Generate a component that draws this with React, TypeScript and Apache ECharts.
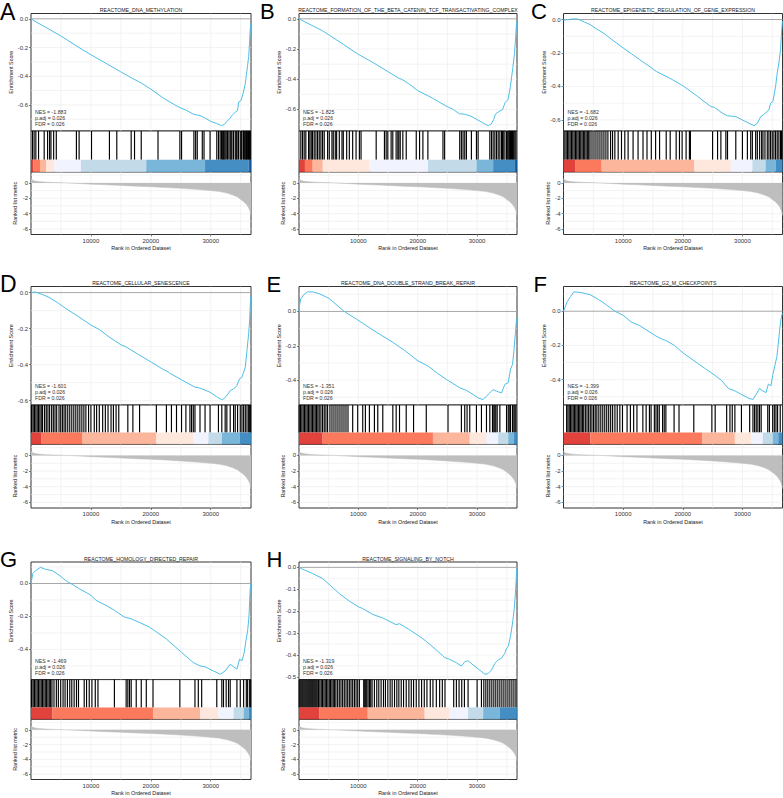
import React, { useEffect, useRef } from "react";
import * as echarts from "echarts";

// ---------------- data ----------------
const panelLetters = ["A", "B", "C", "D", "E", "F", "G", "H"];
const panelTitles = [
  "REACTOME_DNA_METHYLATION",
  "REACTOME_FORMATION_OF_THE_BETA_CATENIN_TCF_TRANSACTIVATING_COMPLEX",
  "REACTOME_EPIGENETIC_REGULATION_OF_GENE_EXPRESSION",
  "REACTOME_CELLULAR_SENESCENCE",
  "REACTOME_DNA_DOUBLE_STRAND_BREAK_REPAIR",
  "REACTOME_G2_M_CHECKPOINTS",
  "REACTOME_HOMOLOGY_DIRECTED_REPAIR",
  "REACTOME_SIGNALING_BY_NOTCH",
];
const nesValues = ["-1.883", "-1.825", "-1.682", "-1.601", "-1.351", "-1.399", "-1.469", "-1.319"];
const padjValues = ["0.026", "0.026", "0.026", "0.026", "0.026", "0.026", "0.026", "0.026"];
const fdrValues = ["0.026", "0.026", "0.026", "0.026", "0.026", "0.026", "0.026", "0.026"];

// running enrichment score curves [rank, ES]
const esA = [[0,0],[1000,-0.025],[2500,-0.06],[5000,-0.12],[8000,-0.2],[10000,-0.25],[12500,-0.31],[15000,-0.37],[16700,-0.41],[18500,-0.45],[20000,-0.49],[22000,-0.55],[24000,-0.6],[24900,-0.62],[25800,-0.635],[27100,-0.665],[28200,-0.675],[29000,-0.69],[30000,-0.715],[31000,-0.73],[31800,-0.745],[32300,-0.735],[32800,-0.71],[33140,-0.698],[33530,-0.675],[33810,-0.663],[34090,-0.652],[34480,-0.64],[34650,-0.581],[35040,-0.57],[35380,-0.523],[35770,-0.452],[35940,-0.394],[36160,-0.323],[36330,-0.265],[36500,-0.148],[36610,-0.066],[36700,-0.03]];
const esB = [[0,0],[1000,-0.02],[2500,-0.05],[4000,-0.08],[5000,-0.105],[7500,-0.17],[10000,-0.235],[12500,-0.29],[15000,-0.35],[16900,-0.395],[17300,-0.4],[18500,-0.43],[20000,-0.475],[22500,-0.525],[24800,-0.578],[26000,-0.6],[27000,-0.628],[28000,-0.632],[29000,-0.645],[30500,-0.678],[31500,-0.7],[31900,-0.707],[32400,-0.695],[32800,-0.665],[33100,-0.63],[33600,-0.615],[34300,-0.6],[34700,-0.555],[35200,-0.535],[35600,-0.45],[36000,-0.33],[36300,-0.23],[36500,-0.12],[36650,-0.02]];
const esC = [[0,-0.004],[800,0.0],[1700,0.004],[2500,0.002],[3500,-0.015],[4440,-0.03],[5500,-0.055],[6670,-0.08],[8300,-0.125],[10000,-0.17],[11400,-0.205],[12780,-0.24],[14200,-0.275],[15560,-0.31],[17800,-0.35],[20000,-0.395],[22500,-0.46],[24720,-0.52],[25300,-0.525],[26670,-0.56],[27500,-0.575],[28890,-0.58],[30000,-0.6],[31110,-0.62],[31940,-0.634],[32500,-0.62],[33060,-0.58],[33500,-0.57],[34440,-0.54],[34720,-0.5],[35110,-0.49],[35560,-0.4],[35830,-0.32],[36110,-0.26],[36390,-0.18],[36560,-0.08],[36700,-0.01]];
const esD = [[0,-0.004],[250,0.0],[480,0.004],[1040,0.0],[2000,-0.012],[3000,-0.026],[4400,-0.055],[5800,-0.088],[8000,-0.135],[10000,-0.18],[11400,-0.205],[13200,-0.25],[15040,-0.29],[15880,-0.302],[18000,-0.345],[20080,-0.386],[22000,-0.425],[22890,-0.44],[23300,-0.45],[25130,-0.484],[27370,-0.525],[28210,-0.53],[29890,-0.553],[31000,-0.578],[31570,-0.59],[32000,-0.594],[32690,-0.572],[33250,-0.544],[33810,-0.535],[34370,-0.516],[34820,-0.479],[35210,-0.47],[35770,-0.414],[36050,-0.32],[36330,-0.227],[36500,-0.153],[36610,-0.06],[36700,-0.02]];
const esE = [[0,0],[30,0.025],[310,0.075],[870,0.1],[1440,0.114],[2280,0.114],[3410,0.104],[5100,0.075],[7070,0.016],[7630,0.0],[9600,-0.043],[11300,-0.082],[12990,-0.12],[15800,-0.18],[17900,-0.23],[20030,-0.288],[21720,-0.318],[23300,-0.36],[24820,-0.396],[27070,-0.445],[28200,-0.46],[29320,-0.484],[30170,-0.504],[31010,-0.514],[31580,-0.494],[32140,-0.475],[32700,-0.455],[33270,-0.465],[34110,-0.475],[34680,-0.425],[35240,-0.416],[35630,-0.337],[35970,-0.308],[36200,-0.23],[36480,-0.112],[36650,-0.04]];
const esF = [[0,0],[630,0.056],[1180,0.086],[1740,0.113],[2840,0.11],[4490,0.096],[5900,0.068],[7240,0.036],[8620,0.0],[10000,-0.024],[11380,-0.064],[12750,-0.084],[15500,-0.145],[16600,-0.165],[17150,-0.171],[18600,-0.2],[20080,-0.245],[23770,-0.336],[25430,-0.376],[26530,-0.406],[27630,-0.452],[28730,-0.466],[29830,-0.486],[30930,-0.507],[31760,-0.517],[32310,-0.486],[32860,-0.452],[33410,-0.466],[33960,-0.476],[34350,-0.426],[34790,-0.436],[35070,-0.376],[35450,-0.316],[35780,-0.265],[36000,-0.195],[36220,-0.115],[36450,-0.05],[36700,-0.01]];
const esG = [[0,0],[100,0.02],[310,0.061],[760,0.078],[1600,0.098],[2440,0.086],[3560,0.078],[4680,0.051],[6080,0.01],[6640,0.0],[8040,-0.031],[10000,-0.071],[10840,-0.102],[12520,-0.133],[13920,-0.163],[15600,-0.204],[16720,-0.214],[19800,-0.265],[22600,-0.337],[25130,-0.418],[27090,-0.48],[28210,-0.5],[29050,-0.506],[30450,-0.531],[31570,-0.551],[32410,-0.531],[33250,-0.49],[33810,-0.506],[34370,-0.52],[34820,-0.459],[35210,-0.469],[35600,-0.418],[35880,-0.347],[36160,-0.286],[36380,-0.204],[36550,-0.061],[36660,0.0]];
const esH = [[0,0],[590,-0.008],[2280,-0.028],[3970,-0.051],[5380,-0.085],[6790,-0.12],[8480,-0.154],[10000,-0.18],[10730,-0.188],[12420,-0.215],[14110,-0.231],[15800,-0.254],[16360,-0.262],[16930,-0.257],[18620,-0.285],[20310,-0.315],[21440,-0.338],[23130,-0.377],[24540,-0.412],[25380,-0.42],[26510,-0.435],[27350,-0.451],[27920,-0.431],[28480,-0.426],[29330,-0.446],[30450,-0.469],[31300,-0.488],[31860,-0.485],[32420,-0.469],[32990,-0.438],[33550,-0.423],[34110,-0.415],[34680,-0.392],[34960,-0.369],[35240,-0.362],[35630,-0.315],[35970,-0.254],[36250,-0.192],[36420,-0.131],[36590,-0.054],[36650,-0.008]];

// gene-set hit positions (rank)
const hitsA = [250,520,810,1260,2200,2770,3110,3330,3780,4220,7580,8030,10100,13090,14320,16720,17280,18400,21200,24850,25130,27190,27480,27750,28590,28880,29890,31010,31300,31570,31800,32000,32100,32240,32400,32580,32800,33030,33250,33400,33540,33800,34090,34260,34400,34640,34930,35100,35220,35480,35600,35770,35940,36000,36160,36300,36400,36500,36610];
const hitsB = [310,590,870,1150,1610,1830,2060,2280,2560,2850,3130,3410,3690,3970,4250,4820,5100,5550,5770,6110,6340,6790,7240,7460,8030,8480,9040,9610,10170,10450,13000,14390,14680,14960,15520,15800,16360,16650,16820,17050,17490,18060,19750,20310,20870,21710,24250,24530,27070,27350,27630,27920,28200,29040,29890,30170,32140,32420,32700,32990,33270,33550,33830,34110,34280,34400,34680,34960,35070,35240,35410,35520,35630,35800,35970,36080,36200,36370,36540];
const hitsC = [222,444,667,889,1111,1333,1556,1778,2000,2222,2444,2667,2889,3111,3333,3556,3778,4000,4222,4444,4778,5111,5444,5778,6111,6444,6778,7111,7444,7889,8222,8611,9167,9722,10278,10833,11667,12500,13333,14000,14722,15444,16111,17222,17889,18889,19444,19889,20556,21111,21278,25000,25833,26389,27222,27500,28889,30000,30833,31389,31667,32222,32500,32889,33222,33444,33778,34167,34444,34722,35000,35278,35556,35833,36111,36389,36556];
const hitsD = [80,140,364,588,812,1036,1260,1485,1709,1933,2269,2549,2829,3109,3445,3725,4006,4286,4678,4958,5238,5518,5798,6134,6470,6807,7143,7479,7815,8151,8487,8823,9159,9607,9999,10560,10952,11400,11960,12408,12857,13361,13753,14201,14649,16162,17003,18123,20924,22600,23440,24285,25126,25854,26526,26800,27086,27366,28207,29050,29888,31288,31848,32408,32688,33249,33809,34089,34481,34929,35209,35489,35769,36049,36329,36497,36665];
const hitsE = [28,254,479,704,930,1155,1380,1606,1831,2056,2282,2507,2732,2958,3183,3408,3690,3972,4254,4535,4817,5211,5550,5888,6226,6564,6902,7240,7578,7916,8254,9043,9888,10733,11183,11859,12704,13268,14113,15803,16366,16930,18057,19296,21437,25099,27352,27916,28310,28761,29888,30733,31578,32141,32592,32817,32986,33155,33381,33832,34958,35240,35409,35634,35972,36197,36366,36535];
const hitsF = [523,744,964,1185,1405,1625,1846,2066,2287,2507,2728,2948,3168,3389,3664,3940,4215,4491,4766,5042,5317,5593,5923,6254,6584,6915,7246,7576,7907,8237,8623,9009,9449,9890,10662,11213,11764,12315,13306,13857,14408,14684,15235,15510,15786,16061,16612,16888,17164,18541,19368,21847,24878,25429,27358,27909,28294,28735,29837,31215,31766,32042,32317,32593,32868,33144,34246,34522,35073,35348,35624,35899,36340];
const hitsG = [80,140,364,588,812,1036,1260,1485,1709,1933,2157,2381,2605,2829,3053,3277,3501,3837,4230,4566,4958,5350,5686,6078,6470,6807,7199,7591,7927,8879,9271,9719,10167,10728,11176,13921,15882,16162,16442,16722,17563,18403,19243,20364,24845,27366,27926,28487,31008,31848,32128,32576,32968,33249,34369,34929,35489,35937,36161,36497,36665];
const hitsH = [30,200,370,540,700,870,1040,1210,1380,1550,1720,1890,2060,2230,2390,2560,2730,2900,3070,3300,3520,3750,3970,4200,4420,4650,4870,5100,5320,5550,5770,6000,6220,6510,6790,7070,7350,7630,7920,8200,8480,8760,9040,9330,9610,9890,10170,10900,11070,11240,11410,11630,11860,12080,12310,12700,13100,13440,13830,14230,14560,14960,15350,15690,16090,16480,16820,17220,17610,18060,18510,18910,19300,19750,20200,20650,21100,21550,22110,22560,23130,23690,24140,24590,26060,26510,26960,27410,27860,28480,30000,30730,31130,31470,31800,32140,32480,32820,33150,33490,33830,34170,34510,34850,35190,35520,35860,36200,36540];

// colour-bar segments [start rank, end rank, brewer key]
const barA = [[0,400,"R4"],[400,1500,"R3"],[1500,2500,"R2"],[2500,3900,"R1"],[3900,8330,"B1"],[8330,19240,"B2"],[19240,29050,"B3"],[29050,36330,"B4"],[36330,36720,"B5"]];
const barB = [[0,1000,"R4"],[1000,2300,"R3"],[2300,4000,"R2"],[4000,11860,"R1"],[11860,21720,"B1"],[21720,29890,"B2"],[29890,32700,"B3"],[32700,36370,"B4"],[36370,36720,"B5"]];
const barC = [[0,1940,"R4"],[1940,6390,"R3"],[6390,21940,"R2"],[21940,28060,"R1"],[28060,31670,"B1"],[31670,33890,"B2"],[33890,35560,"B3"],[35560,36720,"B4"]];
const barD = [[0,1765,"R4"],[1765,8600,"R3"],[8600,20920,"R2"],[20920,27090,"R1"],[27090,29610,"B1"],[29610,31850,"B2"],[31850,34820,"B3"],[34820,36720,"B4"]];
const barE = [[0,3970,"R4"],[3970,22560,"R3"],[22560,28760,"R2"],[28760,31580,"R1"],[31580,33550,"B1"],[33550,35240,"B2"],[35240,36200,"B3"],[36200,36720,"B4"]];
const barF = [[0,4490,"R4"],[4490,23220,"R3"],[23220,28730,"R2"],[28730,31490,"R1"],[31490,33420,"B1"],[33420,35070,"B2"],[35070,36010,"B3"],[36010,36720,"B4"]];
const barG = [[0,3560,"R4"],[3560,20360,"R3"],[20360,28210,"R2"],[28210,31290,"R1"],[31290,33810,"B1"],[33810,35490,"B2"],[35490,36330,"B3"],[36330,36720,"B4"]];
const barH = [[0,3410,"R4"],[3410,11580,"R3"],[11580,21160,"R2"],[21160,25380,"R1"],[25380,28480,"B1"],[28480,31020,"B2"],[31020,33830,"B3"],[33830,36720,"B4"]];

// ranked list metric [rank, metric]
const rankedMetric = [[0,0.6],[150,0.4],[500,0.28],[1200,0.18],[2500,0.1],[4000,0.05],[6000,0.0],[8000,-0.08],[10000,-0.16],[12500,-0.25],[15000,-0.33],[17500,-0.42],[20000,-0.5],[22500,-0.6],[25000,-0.71],[27500,-0.84],[30000,-1.0],[31500,-1.13],[32700,-1.33],[33700,-1.58],[34500,-1.85],[35000,-2.15],[35500,-2.45],[36000,-2.85],[36300,-3.2],[36550,-3.65],[36720,-4.25]];

// tick labels
const esTicks4 = [0, -0.2, -0.4, -0.6];
const esTicks3 = [0, -0.2, -0.4];
const esTicksH = [0, -0.1, -0.2, -0.3, -0.4, -0.5];
const rankedTicks = [0, -2, -4, -6];
const xTicks = [10000, 20000, 30000];

// ---------------- styling / layout ----------------
const FONT = "'Liberation Sans', Arial, Helvetica, sans-serif";
const X_MAX = 36720;
const RANK_Y_MIN = -6.72;
const RANK_Y_MAX = 1.42;
const BORDER = "#333333";
const GRID_COLOR = "#EBEBEB";
const ES_COLOR = "#4DBFE6";
const AREA_COLOR = "#BEBEBE";
const PALETTE_KEYS = ["R5", "R4", "R3", "R2", "R1", "B1", "B2", "B3", "B4", "B5"];
const PALETTE = ["#A50F15", "#DE2D26", "#FB6A4A", "#FCAE91", "#FEE5D9", "#EFF3FF", "#BDD7E7", "#6BAED6", "#3182BD", "#08519C"];

const COLS = [
  { l: 31, r: 251 },
  { l: 299, r: 517 },
  { l: 563.5, r: 782.5 },
];
const ROWS = [
  { es: 13.5, hits: 131, rank: 172, bottom: 234.5 },
  { es: 286.5, hits: 405, rank: 444.3, bottom: 508 },
  { es: 562, hits: 679.6, rank: 719.3, bottom: 779.5 },
];
const LETTER_POS = [
  { x: 0, y: 11.9, fs: 23 },
  { x: 260, y: 11.6, fs: 22 },
  { x: 531, y: 11.8, fs: 22 },
  { x: 0, y: 283.6, fs: 23 },
  { x: 266.5, y: 284.6, fs: 22 },
  { x: 533.5, y: 284.6, fs: 22 },
  { x: 0, y: 559.6, fs: 22 },
  { x: 266.5, y: 559.6, fs: 22 },
];

function textEl(text: string, x: number, y: number, fontSize: number, align: string, fill = "#1A1A1A") {
  return {
    type: "text",
    x,
    y,
    z: 100,
    silent: true,
    style: {
      text,
      fontSize,
      fontFamily: FONT,
      fill,
      align,
      verticalAlign: "middle",
      textAlign: align,
      textVerticalAlign: "middle",
    },
  };
}

function gridLineSeries(idx: number, hVals: number[], vVals: number[], yRef: number, zeroLine: boolean) {
  const data: number[][] = [];
  hVals.forEach((v) => data.push([0, v, 0]));
  vVals.forEach((v) => data.push([v, yRef, 1]));
  if (zeroLine) data.push([0, 0, 2]);
  return {
    type: "custom",
    xAxisIndex: idx,
    yAxisIndex: idx,
    z: 1,
    silent: true,
    clip: false,
    data,
    encode: { x: 0, y: 1 },
    renderItem: (params: any, api: any) => {
      const cs = params.coordSys;
      const kind = api.value(2);
      if (kind === 1) {
        const x = api.coord([api.value(0), yRef])[0];
        return { type: "line", shape: { x1: x, y1: cs.y, x2: x, y2: cs.y + cs.height }, style: { stroke: GRID_COLOR, lineWidth: 0.6 } };
      }
      const y = api.coord([0, api.value(1)])[1];
      if (kind === 2) {
        return { type: "line", z2: 5, shape: { x1: cs.x, y1: y, x2: cs.x + cs.width, y2: y }, style: { stroke: "#A8A8A8", lineWidth: 1 } };
      }
      return { type: "line", shape: { x1: cs.x, y1: y, x2: cs.x + cs.width, y2: y }, style: { stroke: GRID_COLOR, lineWidth: 0.6 } };
    },
  };
}

function buildOption() {
  const panels = [
    { es: esA, hits: hitsA, bar: barA, ticks: esTicks4, step: 0.1 },
    { es: esB, hits: hitsB, bar: barB, ticks: esTicks4, step: 0.1 },
    { es: esC, hits: hitsC, bar: barC, ticks: esTicks4, step: 0.1 },
    { es: esD, hits: hitsD, bar: barD, ticks: esTicks4, step: 0.1 },
    { es: esE, hits: hitsE, bar: barE, ticks: esTicks3, step: 0.1 },
    { es: esF, hits: hitsF, bar: barF, ticks: esTicks3, step: 0.1 },
    { es: esG, hits: hitsG, bar: barG, ticks: esTicks3, step: 0.1 },
    { es: esH, hits: hitsH, bar: barH, ticks: esTicksH, step: 0.05 },
  ];
  const grid: any[] = [];
  const xAxis: any[] = [];
  const yAxis: any[] = [];
  const series: any[] = [];
  const elements: any[] = [];
  const vVals = [5000, 10000, 15000, 20000, 25000, 30000, 35000];
  const labelStyle = { fontSize: 6, fontFamily: FONT, color: "#333333" };
  const nameStyle = { fontSize: 5.4, fontFamily: FONT, color: "#1A1A1A" };
  const tickStyle = { show: true, length: 2, lineStyle: { color: "#333333", width: 0.6 } };

  panels.forEach((p, i) => {
    const c = COLS[i % 3];
    const r = ROWS[Math.floor(i / 3)];
    const w = c.r - c.l;
    const vals = p.es.map((d) => d[1] as number);
    const lo = Math.min(0, ...vals);
    const hi = Math.max(0, ...vals);
    const pad = (hi - lo) * 0.05;
    const yMin = lo - pad;
    const yMax = hi + pad;
    const frame = { show: true, borderColor: BORDER, borderWidth: 1, backgroundColor: "#ffffff", containLabel: false };
    const gEs = grid.length;
    grid.push({ ...frame, left: c.l, top: r.es, width: w, height: r.hits - r.es });
    const gHits = grid.length;
    grid.push({ ...frame, left: c.l, top: r.hits, width: w, height: r.rank - r.hits });
    const gRank = grid.length;
    grid.push({ ...frame, left: c.l, top: r.rank, width: w, height: r.bottom - r.rank });

    const hiddenX = (gi: number) => ({ gridIndex: gi, type: "value", min: 0, max: X_MAX, show: false, axisLine: { show: false, onZero: false } });
    xAxis.push(hiddenX(gEs));
    xAxis.push(hiddenX(gHits));
    xAxis.push({
      gridIndex: gRank,
      type: "value",
      min: 0,
      max: X_MAX,
      axisLine: { show: false, onZero: false },
      axisTick: { ...tickStyle, customValues: xTicks },
      axisLabel: { ...labelStyle, margin: 3, customValues: xTicks, formatter: (v: number) => String(Math.round(v)) },
      splitLine: { show: false },
      name: "Rank in Ordered Dataset",
      nameLocation: "middle",
      nameGap: 11,
      nameTextStyle: nameStyle,
    });

    yAxis.push({
      gridIndex: gEs,
      type: "value",
      min: yMin,
      max: yMax,
      axisLine: { show: false, onZero: false },
      axisTick: { ...tickStyle, customValues: p.ticks },
      axisLabel: { ...labelStyle, margin: 3, customValues: p.ticks, formatter: (v: number) => v.toFixed(1) },
      splitLine: { show: false },
      name: "Enrichment Score",
      nameLocation: "middle",
      nameGap: 16.5,
      nameRotate: 90,
      nameTextStyle: nameStyle,
    });
    yAxis.push({ gridIndex: gHits, type: "value", min: 0, max: 1, show: false, axisLine: { show: false, onZero: false } });
    yAxis.push({
      gridIndex: gRank,
      type: "value",
      min: RANK_Y_MIN,
      max: RANK_Y_MAX,
      axisLine: { show: false, onZero: false },
      axisTick: { ...tickStyle, customValues: rankedTicks },
      axisLabel: { ...labelStyle, margin: 3, customValues: rankedTicks, formatter: (v: number) => String(Math.round(v)) },
      splitLine: { show: false },
      name: "Ranked list metric",
      nameLocation: "middle",
      nameGap: 13.5,
      nameRotate: 90,
      nameTextStyle: nameStyle,
    });

    // ES gridlines
    const hEs: number[] = [];
    for (let k = Math.ceil(yMin / p.step - 1e-9); k <= Math.floor(yMax / p.step + 1e-9); k++) {
      if (k !== 0) hEs.push(k * p.step);
    }
    series.push(gridLineSeries(gEs, hEs, vVals, 0, true));
    series.push({
      type: "line",
      xAxisIndex: gEs,
      yAxisIndex: gEs,
      data: p.es,
      showSymbol: false,
      symbol: "none",
      z: 3,
      silent: true,
      lineStyle: { color: ES_COLOR, width: 1 },
    });

    // hits
    series.push({
      type: "custom",
      xAxisIndex: gHits,
      yAxisIndex: gHits,
      z: 2,
      silent: true,
      data: p.hits.map((h) => [h, 1]),
      encode: { x: 0, y: 1 },
      renderItem: (params: any, api: any) => {
        const top = api.coord([api.value(0), 1]);
        const bot = api.coord([api.value(0), 0.3]);
        return { type: "line", shape: { x1: top[0], y1: top[1], x2: bot[0], y2: bot[1] }, style: { stroke: "#000000", lineWidth: 1.15 } };
      },
    });
    // colour bar
    series.push({
      type: "custom",
      xAxisIndex: gHits,
      yAxisIndex: gHits,
      z: 3,
      silent: true,
      data: p.bar.map((b: any) => [b[0], b[1], PALETTE_KEYS.indexOf(b[2])]),
      encode: { x: [0, 1] },
      renderItem: (params: any, api: any) => {
        const a = api.coord([api.value(0), 0.3]);
        const b = api.coord([api.value(1), 0]);
        return {
          type: "rect",
          shape: { x: a[0], y: a[1], width: b[0] - a[0], height: b[1] - a[1] },
          style: { fill: PALETTE[api.value(2)], opacity: 0.9 },
        };
      },
    });

    // ranked list
    const hRank = [-6, -5, -4, -3, -2, -1, 0, 1];
    series.push(gridLineSeries(gRank, hRank, vVals, 0, false));
    series.push({
      type: "line",
      xAxisIndex: gRank,
      yAxisIndex: gRank,
      data: rankedMetric,
      showSymbol: false,
      symbol: "none",
      z: 3,
      silent: true,
      lineStyle: { color: AREA_COLOR, width: 0.5 },
      areaStyle: { color: AREA_COLOR, opacity: 1, origin: "auto" },
    });

    // texts
    elements.push(textEl(panelTitles[i], (c.l + c.r) / 2, r.es - 3.5, 5.2, "center"));
    elements.push(textEl("NES = " + nesValues[i], c.l + 4, r.hits - 19, 5.2, "left", "#333333"));
    elements.push(textEl("p.adj = " + padjValues[i], c.l + 4, r.hits - 13, 5.2, "left", "#333333"));
    elements.push(textEl("FDR = " + fdrValues[i], c.l + 4, r.hits - 7, 5.2, "left", "#333333"));
    const lp = LETTER_POS[i];
    elements.push(textEl(panelLetters[i], lp.x, lp.y, lp.fs, "left", "#000000"));
  });

  return {
    animation: false,
    backgroundColor: "#ffffff",
    grid,
    xAxis,
    yAxis,
    series,
    graphic: { elements },
  };
}

export default function App() {
  const ref = useRef<HTMLDivElement>(null);
  useEffect(() => {
    if (!ref.current) return;
    const chart = echarts.init(ref.current, undefined, { renderer: "svg" });
    chart.setOption(buildOption() as any);
    return () => chart.dispose();
  }, []);
  return (
    <div
      ref={ref}
      style={{ position: "absolute", left: 0, top: 0, width: 783, height: 798, background: "#ffffff" }}
    />
  );
}
